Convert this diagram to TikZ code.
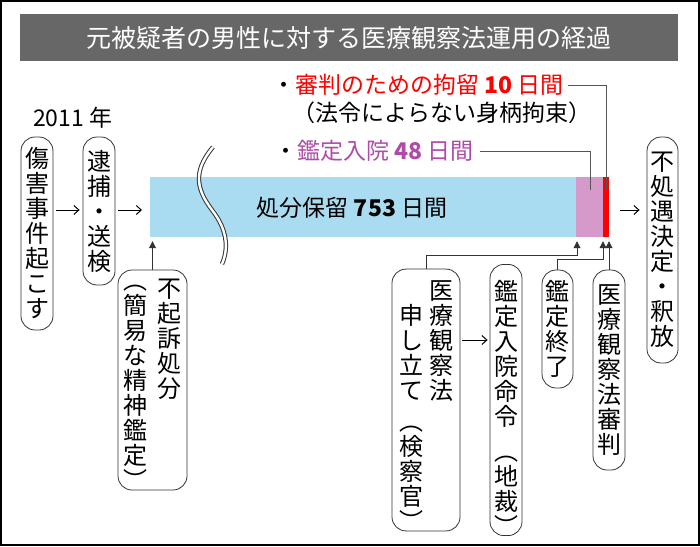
\documentclass[tikz,border=0pt]{standalone}
\usepackage{fontspec}
\setmainfont{Noto Sans CJK JP}
\usetikzlibrary{arrows.meta,calc}
\definecolor{barblue}{HTML}{A9DBF1}
\definecolor{barpink}{HTML}{D59ACA}
\definecolor{barred}{HTML}{FF0000}
\definecolor{redtext}{HTML}{FF0000}
\definecolor{purpletext}{HTML}{B04BA8}
\definecolor{titlegray}{HTML}{676767}
\definecolor{boxline}{HTML}{333333}
\definecolor{callgray}{HTML}{555555}
\newcommand{\vcol}[1]{\vtop{\baselineskip=25pt\lineskiplimit=-30pt\lineskip=0pt\halign{\hfil##\hfil\cr#1\crcr}}}
\newcommand{\padtop}[2]{\raisebox{0pt}[\dimexpr\height+#1\relax][\depth]{#2}}
\newcommand{\fsz}{\fontsize{23}{25}\selectfont}
\newcommand{\bsz}{\fontsize{24}{25}\selectfont}
\tikzset{
  vbox/.style={draw=boxline, line width=0.8pt, rounded corners=14pt, inner sep=0pt, font=\bsz},
  lbl/.style={inner sep=0pt, font=\fsz},
  harrow/.style={-{Straight Barb[length=5pt,width=9pt]}, line width=1pt, black},
  varrow/.style={-{Triangle[length=7pt,width=7pt]}, line width=0.8pt, boxline},
  callout/.style={line width=0.8pt, callgray}
}
\begin{document}
\begin{tikzpicture}[x=1pt,y=-1pt]
\useasboundingbox (0,0) rectangle (700,546);
\draw[line width=2pt] (1,1) rectangle (699,545);
% title
\node[fill=titlegray, minimum width=658, minimum height=47, inner sep=0pt] (titlebar) at (349,37.5) {};
\node[font=\fontsize{25}{25}\selectfont, text=white, inner sep=0pt] (title) at (349,38) {元被疑者の男性に対する医療観察法運用の経過};
% bar
\node[fill=barblue, minimum width=426, minimum height=60, inner sep=0pt, anchor=west] (bar) at (150,207) {};
\node[fill=barpink, minimum width=27, minimum height=60, inner sep=0pt, anchor=west] (pink) at (576,207) {};
\node[fill=barred, minimum width=6, minimum height=60, inner sep=0pt, anchor=west] (redbar) at (603,207) {};
% break mark
\draw[line width=4.4pt, boxline] (213,147) .. controls (192,172) and (197,190) .. (212,210) .. controls (227,229) and (229,248) .. (222,264);
\draw[line width=2.4pt, white] (213,147) .. controls (192,172) and (197,190) .. (212,210) .. controls (227,229) and (229,248) .. (222,264);
\node[lbl] (bartext) at (352,208) {処分保留 \textbf{753} 日間};
% labels
\node[lbl, anchor=west] (year) at (33,118) {2011 年};
\node[lbl, anchor=west, text=redtext] (redlabel) at (272,85) {\textcolor{black}{・}審判のための拘留 \textbf{10} 日間};
\node[lbl, anchor=west] (redsub) at (292,113) {（法令によらない身柄拘束）};
\node[lbl, anchor=west, text=purpletext] (purplelabel) at (274,151) {\textcolor{black}{・}鑑定入院 \textbf{48} 日間};
\coordinate (rc) at (606,190);
\coordinate (pc) at (590,190);
\draw[callout] ([xshift=4pt]redlabel.east) -| (rc);
\draw[callout] ([xshift=6pt]purplelabel.east) -| (pc);
% boxes
\node[vbox, minimum width=32, minimum height=193] (case) at (37,233.5) {\vcol{傷\cr 害\cr 事\cr 件\cr 起\cr こ\cr す}};
\node[vbox, minimum width=32, minimum height=148] (arrest) at (99,211) {\vcol{逮\cr 捕\cr ・\cr 送\cr 検}};
\node[vbox, minimum width=69, minimum height=220] (fuki) at (152.5,380) {\padtop{9pt}{\raisebox{8pt}{\vcol{︵\cr 簡\cr 易\cr な\cr 精\cr 神\cr 鑑\cr 定\cr ︶}}\hspace{10pt}\vcol{不\cr 起\cr 訴\cr 処\cr 分}}};
\node[vbox, minimum width=31, minimum height=226] (release) at (662.5,250) {\vcol{不\cr 処\cr 遇\cr 決\cr 定\cr ・\cr 釈\cr 放}};
\node[vbox, minimum width=68, minimum height=260] (moushi) at (426,400) {\padtop{12pt}{\raisebox{-25pt}{\vcol{申\cr し\cr 立\cr て\cr\noalign{\vskip 6pt}︵\cr 検\cr 察\cr 官\cr ︶}}\hspace{6pt}\vcol{医\cr 療\cr 観\cr 察\cr 法}}};
\node[vbox, minimum width=32, minimum height=260] (order) at (506,400) {\padtop{16pt}{\vcol{鑑\cr 定\cr 入\cr 院\cr 命\cr 令\cr\noalign{\vskip 10pt}︵\cr 地\cr 裁\cr ︶}}};
\node[vbox, minimum width=31, minimum height=118] (kend) at (557.5,329) {\vcol{鑑\cr 定\cr 終\cr 了}};
\node[vbox, minimum width=32, minimum height=200] (trial) at (609,370) {\vcol{医\cr 療\cr 観\cr 察\cr 法\cr 審\cr 判}};
% horizontal arrows
\coordinate (ay) at (0,210);
\coordinate (my) at (0,340);
\draw[harrow, shorten <=3pt, shorten >=3pt] (case.east |- ay) -- (arrest.west |- ay);
\draw[harrow, shorten <=3pt, shorten >=8pt] (arrest.east |- ay) -- (bar.west |- ay);
\draw[harrow, shorten <=11pt, shorten >=7pt] (redbar.east |- ay) -- (release.west |- ay);
\draw[harrow, shorten <=2pt, shorten >=2pt] (moushi.east |- my) -- (order.west |- my);
% vertical arrows
\coordinate (m1) at (577,255);
\coordinate (e1) at (603,259);
\draw[varrow, shorten >=4pt] (fuki.north) -- (fuki.north |- bar.south);
\draw[varrow, shorten >=4pt] (moushi.north) |- (m1) -- (m1 |- pink.south);
\draw[varrow, shorten >=4pt] (kend.north) |- (e1) -- (e1 |- redbar.south);
\draw[varrow, shorten >=4pt] (trial.north) -- (trial.north |- redbar.south);
\end{tikzpicture}
\end{document}
